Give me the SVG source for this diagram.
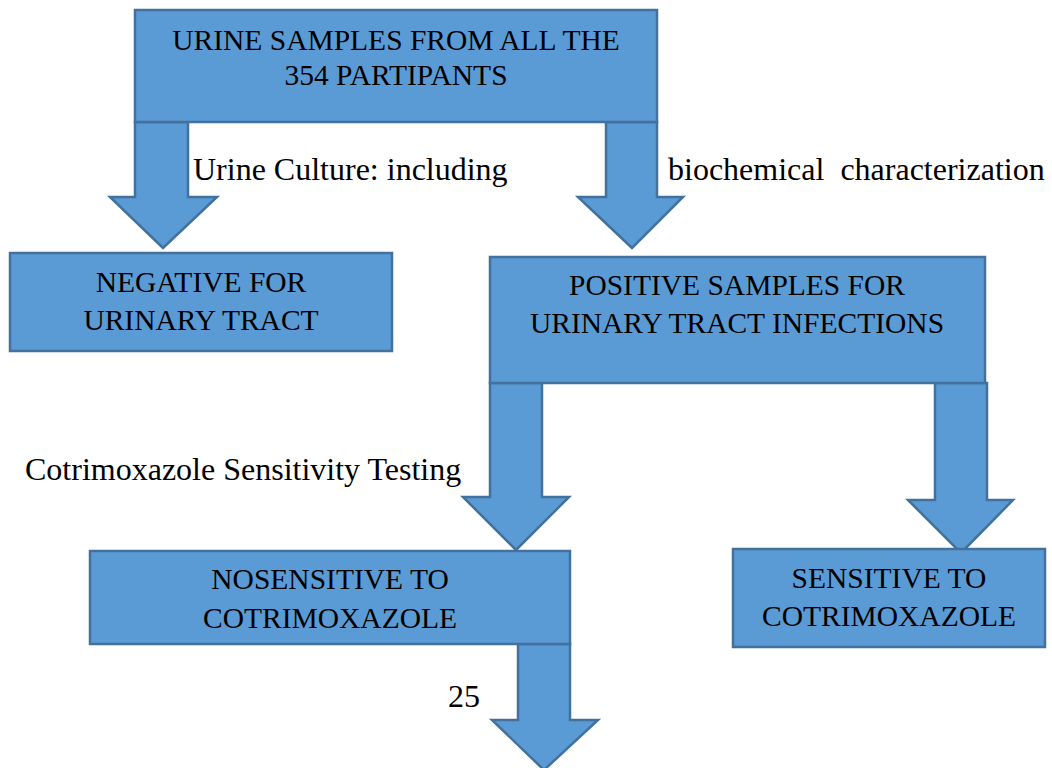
<svg xmlns="http://www.w3.org/2000/svg" width="1052" height="768" viewBox="0 0 1052 768">
<style>
.box{fill:#5B9BD5;stroke:#41719C;stroke-width:2.5}
.arr{fill:#5B9BD5;stroke:#41719C;stroke-width:2.5;stroke-linejoin:miter}
text{font-family:'Liberation Serif','Times New Roman',Times,serif;font-size:29.5px;fill:#000}
.lbl{font-size:32px}
.c{text-anchor:middle}
</style>
<rect width="1052" height="768" fill="#fff"/>
<g id="connectors">
<polygon class="arr" points="135,122 188,122 188,197 217,197 163,248 110,197 135,197"/>
<polygon class="arr" points="606,122 657,122 657,197 683,197 632,248 578,197 606,197"/>
<polygon class="arr" points="490,383 542,383 542,497 569,497 516,550 463,497 490,497"/>
<polygon class="arr" points="935,383 987,383 987,500 1013,500 961,553 908,500 935,500"/>
<polygon class="arr" points="518,644 570,644 570,720 598,720 544,770 492,720 518,720"/>
</g>
<g id="top">
<rect class="box" x="135" y="10" width="522" height="112"/>
<text class="c" x="396" y="50">URINE SAMPLES FROM ALL THE</text>
<text class="c" x="396" y="85">354 PARTIPANTS</text>
</g>
<g id="negative">
<rect class="box" x="10" y="253" width="382" height="98"/>
<text class="c" x="201" y="292">NEGATIVE FOR</text>
<text class="c" x="201" y="330">URINARY TRACT</text>
</g>
<g id="positive">
<rect class="box" x="490" y="257" width="495" height="126"/>
<text class="c" x="737" y="295">POSITIVE SAMPLES FOR</text>
<text class="c" x="737" y="333">URINARY TRACT INFECTIONS</text>
</g>
<g id="nosensitive">
<rect class="box" x="90" y="551" width="480" height="93"/>
<text class="c" x="330" y="589">NOSENSITIVE TO</text>
<text class="c" x="330" y="628">COTRIMOXAZOLE</text>
</g>
<g id="sensitive">
<rect class="box" x="733" y="549" width="312" height="98"/>
<text class="c" x="889" y="588">SENSITIVE TO</text>
<text class="c" x="889" y="626">COTRIMOXAZOLE</text>
</g>
<g id="labels">
<text class="lbl" x="193" y="180">Urine Culture: including</text>
<text class="lbl" x="668" y="180" xml:space="preserve">biochemical  characterization</text>
<text class="lbl" x="25" y="480">Cotrimoxazole Sensitivity Testing</text>
<text class="lbl" x="448" y="707">25</text>
</g>
</svg>
